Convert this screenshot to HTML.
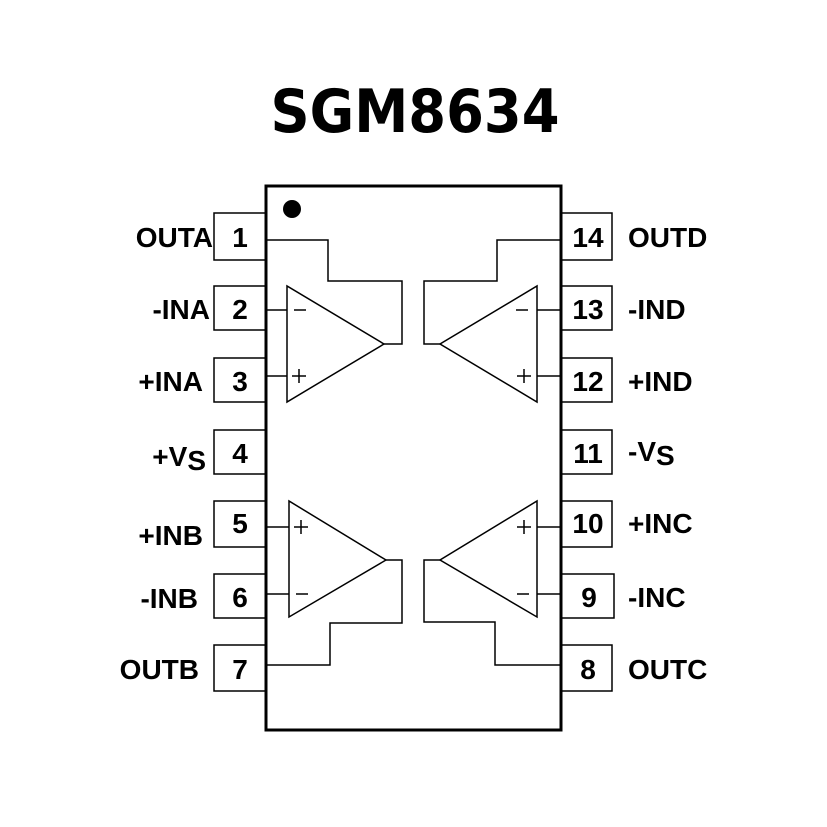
<!DOCTYPE html>
<html><head><meta charset="utf-8"><style>
html,body{margin:0;padding:0;background:#fff;}
svg{display:block;}
.l{font-family:"Liberation Sans",Arial,sans-serif;font-weight:bold;font-size:28px;fill:#000;}
</style></head><body>
<svg width="827" height="827" viewBox="0 0 827 827" xmlns="http://www.w3.org/2000/svg">
<rect width="827" height="827" fill="#fff"/>
<text x="415" y="132" text-anchor="middle" font-family="'DejaVu Sans',sans-serif" font-weight="bold" font-size="60" textLength="289" lengthAdjust="spacingAndGlyphs">SGM8634</text>
<g fill="#fff" stroke="#000" stroke-width="1.5">
<rect x="214" y="213" width="52" height="47"/>
<rect x="214" y="286" width="52" height="44"/>
<rect x="214" y="358" width="52" height="44"/>
<rect x="214" y="430" width="52" height="44"/>
<rect x="214" y="501" width="52" height="46"/>
<rect x="214" y="574" width="52" height="44"/>
<rect x="214" y="645" width="52" height="46"/>
<rect x="561" y="213" width="51" height="47"/>
<rect x="561" y="286" width="51" height="44"/>
<rect x="561" y="358" width="51" height="44"/>
<rect x="561" y="430" width="51" height="44"/>
<rect x="561" y="501" width="51" height="46"/>
<rect x="561" y="574" width="53" height="44"/>
<rect x="561" y="645" width="51" height="46"/>
</g>
<rect x="266" y="186" width="295" height="544" fill="none" stroke="#000" stroke-width="3"/>
<circle cx="292" cy="209" r="9" fill="#000"/>
<g fill="none" stroke="#000" stroke-width="1.5">
<polygon points="287,286 287,402 384,344"/>
<polyline points="266,240 328,240 328,281 402,281 402,344 384,344"/>
<line x1="266" y1="310" x2="287" y2="310"/><line x1="266" y1="376" x2="287" y2="376"/>
<polygon points="289,501 289,617 386,560"/>
<polyline points="266,665 330,665 330,623 402,623 402,560 386,560"/>
<line x1="266" y1="527" x2="289" y2="527"/><line x1="266" y1="594" x2="289" y2="594"/>
<polygon points="537,286 537,402 440,344"/>
<polyline points="561,240 497,240 497,281 424,281 424,344 440,344"/>
<line x1="561" y1="310" x2="537" y2="310"/><line x1="561" y1="376" x2="537" y2="376"/>
<polygon points="537,501 537,617 440,560"/>
<polyline points="561,665 495,665 495,622 424,622 424,560 440,560"/>
<line x1="561" y1="527" x2="537" y2="527"/><line x1="561" y1="594" x2="537" y2="594"/>
<line x1="294" y1="310" x2="306" y2="310"/>
<line x1="292" y1="376" x2="306" y2="376"/><line x1="299" y1="369" x2="299" y2="383"/>
<line x1="294" y1="527" x2="308" y2="527"/><line x1="301" y1="520" x2="301" y2="534"/>
<line x1="296" y1="594" x2="308" y2="594"/>
<line x1="516" y1="310" x2="528" y2="310"/>
<line x1="517" y1="376" x2="531" y2="376"/><line x1="524" y1="369" x2="524" y2="383"/>
<line x1="517" y1="527" x2="531" y2="527"/><line x1="524" y1="520" x2="524" y2="534"/>
<line x1="517" y1="594" x2="529" y2="594"/>
</g>
<g class="l" text-anchor="middle">
<text x="240" y="247">1</text><text x="240" y="319">2</text><text x="240" y="391">3</text>
<text x="240" y="463">4</text><text x="240" y="533">5</text><text x="240" y="607">6</text><text x="240" y="679">7</text>
<text x="588" y="247">14</text><text x="588" y="319">13</text><text x="588" y="391">12</text>
<text x="588" y="463">11</text><text x="588" y="533">10</text><text x="589" y="607">9</text><text x="588" y="679">8</text>
</g>
<g class="l" text-anchor="end">
<text x="213" y="247">OUTA</text><text x="210" y="319">-INA</text><text x="203" y="391">+INA</text>
<text x="206" y="466">+V<tspan dy="4">S</tspan></text>
<text x="203" y="545">+INB</text><text x="198" y="608">-INB</text><text x="199" y="679">OUTB</text>
</g>
<g class="l">
<text x="628" y="247">OUTD</text><text x="628" y="319">-IND</text><text x="628" y="391">+IND</text>
<text x="628" y="461">-V<tspan dy="4">S</tspan></text>
<text x="628" y="533">+INC</text><text x="628" y="607">-INC</text><text x="628" y="679">OUTC</text>
</g>
</svg>
</body></html>
